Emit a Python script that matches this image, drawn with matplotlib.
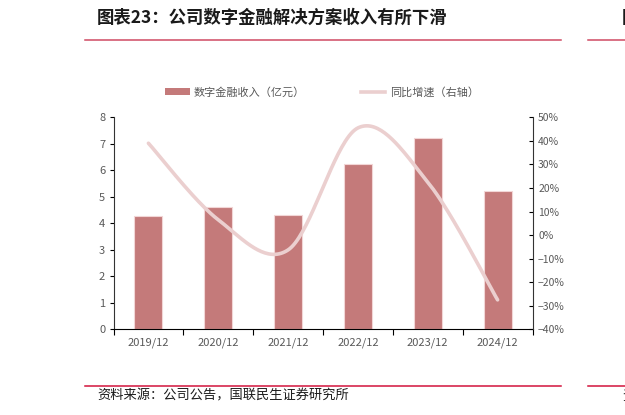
import numpy as np
import matplotlib.pyplot as plt
from matplotlib.patches import Patch
from matplotlib.lines import Line2D

plt.rcParams['font.family'] = ['Noto Sans CJK SC', 'DejaVu Sans']

years = ['2019/12', '2020/12', '2021/12', '2022/12', '2023/12', '2024/12']
revenue = [4.29, 4.60, 4.30, 6.25, 7.22, 5.22]      # 亿元
growth = [39.0, 6.5, -6.3, 45.5, 22.5, -27.5]       # %

bar_color = '#c47a7a'
line_color = '#ebcfcf'
tick_color = '#595959'


def smooth(x, y, n=40):
    # Catmull-Rom style bezier, like a spreadsheet "smoothed line"
    x = np.asarray(x, float)
    y = np.asarray(y, float)
    px = np.concatenate(([x[0]], x, [x[-1]]))
    py = np.concatenate(([y[0]], y, [y[-1]]))
    xs, ys = [], []
    t = np.linspace(0, 1, n)
    for i in range(1, len(px) - 2):
        p0 = np.array([px[i], py[i]])
        p3 = np.array([px[i + 1], py[i + 1]])
        c1 = p0 + (p3 - np.array([px[i - 1], py[i - 1]])) / 6
        c2 = p3 - (np.array([px[i + 2], py[i + 2]]) - p0) / 6
        b = ((1 - t) ** 3)[:, None] * p0 + (3 * (1 - t) ** 2 * t)[:, None] * c1 \
            + (3 * (1 - t) * t ** 2)[:, None] * c2 + (t ** 3)[:, None] * p3
        xs.extend(b[:, 0])
        ys.extend(b[:, 1])
    return np.array(xs), np.array(ys)


fig = plt.figure(figsize=(6.25, 4.15), dpi=100)
ax = fig.add_axes([0.1816, 0.2065, 0.6704, 0.5108])
x = np.arange(len(years))
ax.bar(x, revenue, width=0.4, color=bar_color, edgecolor='#f2d6d6', linewidth=0.8, zorder=2)
ax.set_xlim(-0.5, len(years) - 0.5)
ax.set_ylim(0, 8)
ax.set_yticks(range(0, 9))
ax.set_xticks(x)
ax.set_xticklabels(years)
ax.set_xticks(np.arange(-0.5, len(years)), minor=True)
ax.tick_params(axis='x', which='major', length=0, pad=6, labelsize=8, labelcolor=tick_color)
ax.tick_params(axis='x', which='minor', length=4, direction='out', color='black', width=0.8)
ax.tick_params(axis='y', length=3, direction='out', labelsize=8, labelcolor=tick_color, pad=3)
for s in ['top', 'right']:
    ax.spines[s].set_visible(False)
ax.spines['left'].set_color('#333333')
ax.spines['bottom'].set_color('black')
ax.spines['left'].set_linewidth(0.8)

ax2 = ax.twinx()
sx, sy = smooth(x, growth)
ax2.plot(sx, sy, color=line_color, linewidth=2.6, solid_capstyle='round', zorder=3)
ax2.set_ylim(-40, 50)
ax2.set_yticks(range(-40, 51, 10))
ax2.set_yticklabels([f'{v}%'.replace('-', '\u2212') for v in range(-40, 51, 10)])
ax2.tick_params(axis='y', length=3, direction='in', labelsize=7.5, labelcolor=tick_color, pad=4)
for s in ['top', 'left', 'bottom']:
    ax2.spines[s].set_visible(False)
ax2.spines['right'].set_color('#333333')
ax2.spines['right'].set_linewidth(0.8)

handles = [Patch(facecolor=bar_color, edgecolor='none'),
           Line2D([0], [0], color=line_color, linewidth=2.6)]
fig.legend(handles, ['数字金融收入（亿元）', '同比增速（右轴）'], loc='center',
           bbox_to_anchor=(0.515, 1 - 92 / 415), ncol=2, frameon=False,
           fontsize=8, labelcolor=tick_color, handlelength=2.2, handleheight=0.5,
           handletextpad=0.4, columnspacing=5.0)

# header / footer decorations
fig.text(97 / 625, 1 - 18 / 415, '图表23：公司数字金融解决方案收入有所下滑', fontsize=12.5,
         fontweight='bold', va='center', ha='left', color='#1a1a1a')
fig.text(622 / 625, 1 - 18 / 415, '图', fontsize=12.5, fontweight='bold', va='center', ha='left',
         color='#1a1a1a')
fig.text(97 / 625, 1 - 396 / 415, '资料来源：公司公告，国联民生证券研究所', fontsize=9.5,
         va='center', ha='left', color='#1a1a1a')
fig.text(622 / 625, 1 - 396 / 415, '资', fontsize=9.5, va='center', ha='left', color='#1a1a1a')
for y0, c in [(40, '#cf4a63'), (386, '#d2143c')]:
    fig.add_artist(Line2D([85 / 625, 561 / 625], [1 - y0 / 415] * 2, color=c, linewidth=1.1))
    fig.add_artist(Line2D([588 / 625, 1.0], [1 - y0 / 415] * 2, color=c, linewidth=1.1))

fig.savefig('out.png', dpi=100)
